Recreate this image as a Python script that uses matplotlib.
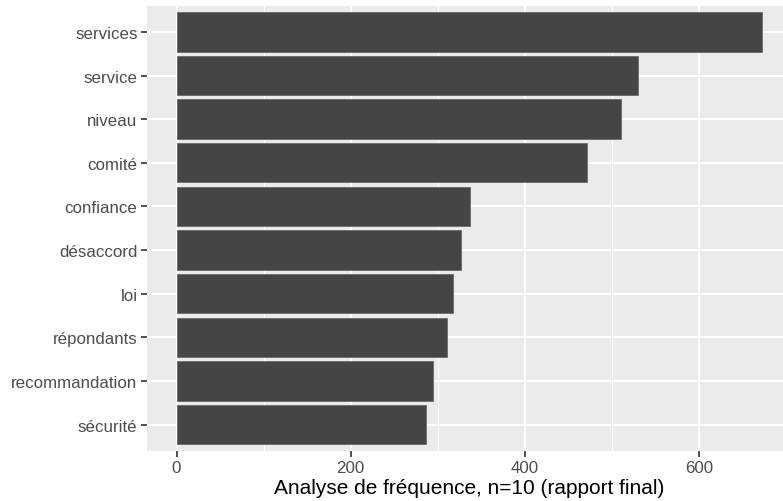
import matplotlib
matplotlib.use("Agg")
import matplotlib.pyplot as plt
from matplotlib.ticker import MultipleLocator

categories = ["services", "service", "niveau", "comité", "confiance",
              "désaccord", "loi", "répondants", "recommandation", "sécurité"]
counts = [672, 530, 510, 471, 337, 327, 318, 311, 294, 287]
xticks = [0, 200, 400, 600]
xlabel = "Analyse de fréquence, n=10 (rapport final)"

plt.rcParams['font.family'] = ['Liberation Sans', 'DejaVu Sans']

W, H = 783, 502
fig = plt.figure(figsize=(W / 100, H / 100), dpi=100)
fig.patch.set_facecolor('white')
# panel extends slightly beyond the right edge (reference is cropped there)
left, right, top, bottom = 147.3, 791, 6.7, 451.7
ax = fig.add_axes([left / W, 1 - bottom / H, (right - left) / W, (bottom - top) / H])
ax.set_facecolor('#EBEBEB')

n = len(categories)
ypos = list(range(n))[::-1]
ax.barh(ypos, counts, height=0.9, color='#454545', edgecolor='#6a6a6a', linewidth=0.6, zorder=3)

ax.set_yticks(ypos)
ax.set_yticklabels(categories)
ax.set_ylim(-0.6, n - 1 + 0.6)
mx = max(counts)
ax.set_xlim(-0.05 * mx, mx * 1.05)
ax.set_xticks(xticks)
ax.xaxis.set_minor_locator(MultipleLocator(100))

ax.grid(which='major', color='white', linewidth=1.4, zorder=1)
ax.grid(which='minor', axis='x', color='white', linewidth=0.7, zorder=1)
ax.set_axisbelow(True)
for s in ax.spines.values():
    s.set_visible(False)

ax.tick_params(axis='both', which='major', length=4, width=1.2, color='#333333',
               labelsize=12.2, labelcolor='#4D4D4D', pad=3)
ax.tick_params(axis='x', which='minor', length=0)
ax.set_xlabel(xlabel, fontsize=15, color='black', labelpad=2)

fig.savefig('out.png', dpi=100)
